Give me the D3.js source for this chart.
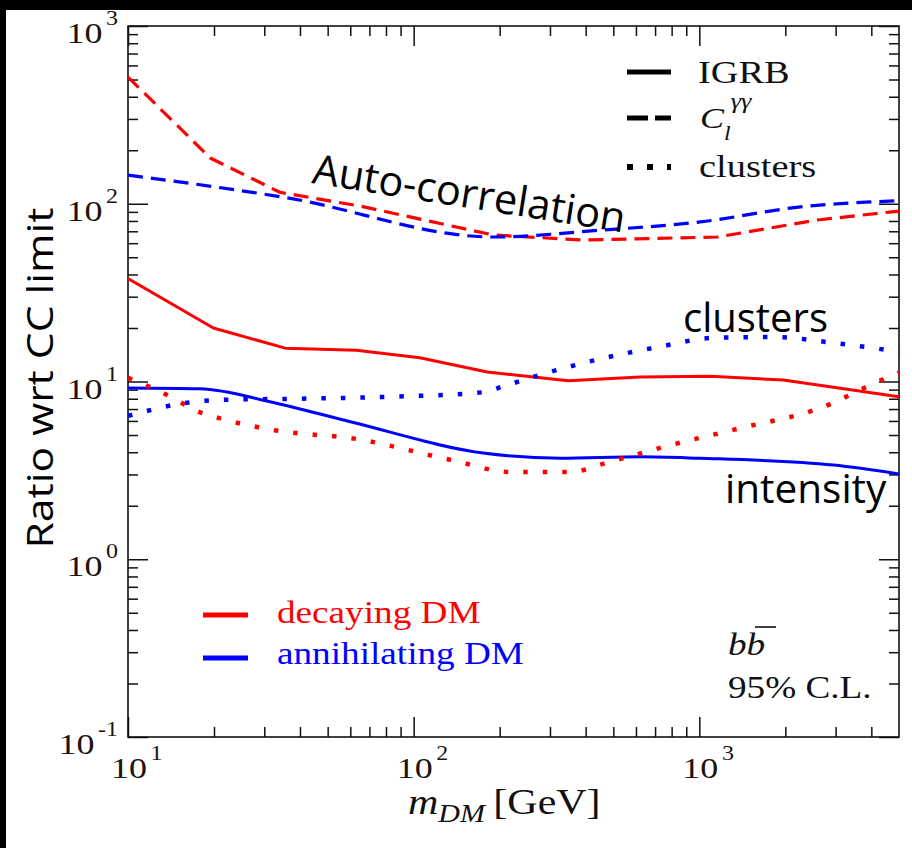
<!DOCTYPE html>
<html>
<head>
<meta charset="utf-8">
<script src="https://cdn.jsdelivr.net/npm/d3@7"></script>
<style>
  html, body { margin: 0; padding: 0; background: #fff; overflow: hidden; }
  svg { display: block; }
</style>
</head>
<body>
<svg id="chart" width="912" height="848"></svg>
<script>
// ---- data: ratio of each limit to the cross-correlation (CC) limit ----
// IGRB (intensity) limits
const igrbDecM = [10, 19.9, 35.5, 63, 105, 181, 348, 621, 1094, 1968, 5000];
const igrbDecV = [38, 20.0, 15.4, 15.0, 13.6, 11.3, 10.1, 10.6, 10.7, 10.2, 8.2];
const igrbAnnM = [10, 17.9, 31.4, 61, 175, 326, 621, 1000, 2946, 5000];
const igrbAnnV = [9.2, 9.1, 7.7, 5.9, 3.96, 3.7, 3.77, 3.7, 3.39, 3.02];
// C_l (auto-correlation) limits
const clDecM = [10, 19.4, 34, 65, 190, 393, 1156, 2590, 5000];
const clDecV = [516, 181, 116, 97, 66.7, 62.5, 65, 81, 91];
const clAnnM = [10, 36, 190, 450, 1007, 2260, 5000];
const clAnnV = [145, 108, 65, 71, 79, 96, 104];
// cluster limits
const cluDecM = [10, 13.7, 17.9, 21, 33, 63, 137, 218, 354, 476, 748, 1393, 2590, 4590, 5000];
const cluDecV = [10.5, 8.4, 6.7, 6.2, 5.3, 4.75, 3.6, 3.1, 3.1, 3.5, 4.28, 5.47, 7.0, 10.6, 11.2];
const cluAnnM = [10, 16.1, 22, 40, 81, 175, 206, 277, 450, 713, 1119, 1815, 2946, 5000];
const cluAnnV = [6.4, 7.6, 7.9, 8.0, 8.2, 8.7, 9.4, 10.9, 13.4, 15.6, 17.6, 17.8, 16.5, 14.7];

const refLevel = 1;                       // CC limit itself
const xMajor = [10, 100, 1000];
const xMajorExp = ["1", "2", "3"];
const yMajor = [0.1, 1, 10, 100, 1000];
const yMajorExp = ["-1", "0", "1", "2", "3"];

const RED = "#ff0000", BLUE = "#0000ff";
const SERIF = "'Liberation Serif','DejaVu Serif',serif";
const SANS = "'Open Sans','Noto Sans',sans-serif";
const STRETCH = 1.2;   // the serif lettering is set slightly wide

const svg = d3.select("#chart");
svg.append("rect").attr("x", 0).attr("y", 0).attr("width", 912).attr("height", 848).attr("fill", "#fff");

// frame bands along top and left
svg.append("rect").attr("x", 0).attr("y", 0).attr("width", 912).attr("height", 10).attr("fill", "#000");
svg.append("rect").attr("x", 0).attr("y", 0).attr("width", 6).attr("height", 848).attr("fill", "#000");

const L = 128, R = 899, T = 26, B = 737;
const x = d3.scaleLog().domain([10, 5000]).range([L, R]);
const y = d3.scaleLog().domain([0.1, 1000]).range([B, T]);

const defs = svg.append("defs");
const sh = defs.append("filter").attr("id", "shadow").attr("x", "-5%").attr("y", "-200%").attr("width", "110%").attr("height", "500%");
sh.append("feDropShadow").attr("dx", 0).attr("dy", 3).attr("stdDeviation", 2).attr("flood-color", "#000").attr("flood-opacity", 0.45);
defs.append("clipPath").attr("id", "plotclip").append("rect").attr("x", L).attr("y", T).attr("width", R - L).attr("height", B - T);

// ---- ticks (inside, major long / minor short) ----
function minorTicks(lo, hi) {
  const out = [];
  for (let e = Math.floor(Math.log10(lo)); e <= Math.ceil(Math.log10(hi)); e++) {
    for (let k = 2; k <= 9; k++) {
      const v = k * Math.pow(10, e);
      if (v > lo && v < hi) out.push(v);
    }
  }
  return out;
}
const xMinor = minorTicks(10, 5000);
const yMinor = minorTicks(0.1, 1000);

function styleAxis(g) {
  g.selectAll("path").remove();
  g.selectAll("line").attr("stroke", "#111").attr("stroke-width", 1.5);
  g.selectAll("text").remove();
}
const MAJ = 20, MIN = 10;
svg.append("g").attr("transform", `translate(0,${B})`).call(d3.axisBottom(x).tickValues(xMajor).tickSize(-MAJ)).call(styleAxis);
svg.append("g").attr("transform", `translate(0,${B})`).call(d3.axisBottom(x).tickValues(xMinor).tickSize(-MIN)).call(styleAxis);
svg.append("g").attr("transform", `translate(0,${T})`).call(d3.axisTop(x).tickValues(xMajor).tickSize(-MAJ)).call(styleAxis);
svg.append("g").attr("transform", `translate(0,${T})`).call(d3.axisTop(x).tickValues(xMinor).tickSize(-MIN)).call(styleAxis);
svg.append("g").attr("transform", `translate(${L},0)`).call(d3.axisLeft(y).tickValues(yMajor).tickSize(-MAJ)).call(styleAxis);
svg.append("g").attr("transform", `translate(${L},0)`).call(d3.axisLeft(y).tickValues(yMinor).tickSize(-MIN)).call(styleAxis);
svg.append("g").attr("transform", `translate(${R},0)`).call(d3.axisRight(y).tickValues(yMajor).tickSize(-MAJ)).call(styleAxis);
svg.append("g").attr("transform", `translate(${R},0)`).call(d3.axisRight(y).tickValues(yMinor).tickSize(-MIN)).call(styleAxis);

// plot frame
svg.append("rect").attr("x", L).attr("y", T).attr("width", R - L).attr("height", B - T)
  .attr("fill", "none").attr("stroke", "#111").attr("stroke-width", 1.6);

// ---- helper for wide serif text ----
function wideText(px, py, anchor, size, fill) {
  const g = svg.append("g").attr("transform", `translate(${px},${py}) scale(${STRETCH},1)`);
  return g.append("text").attr("x", 0).attr("y", 0).attr("text-anchor", anchor)
    .attr("font-family", SERIF).attr("font-size", size).attr("fill", fill || "#111");
}
function powerLabel(t, exp) {
  t.append("tspan").text("10");
  t.append("tspan").attr("dx", 3).attr("dy", -18).attr("font-size", 20).text(exp);
}

// tick labels
yMajor.forEach((v, i) => powerLabel(wideText(118, y(v) + 17, "end", 30, "#1c140c"), yMajorExp[i]));
xMajor.forEach((v, i) => powerLabel(wideText(x(v) - 17, 778, "start", 30, "#1c140c"), xMajorExp[i]));

// axis titles
const xt = wideText(408, 814, "start", 35, "#111");
xt.append("tspan").attr("font-style", "italic").text("m");
xt.append("tspan").attr("font-style", "italic").attr("font-size", 25).attr("dy", 8).text("DM");
xt.append("tspan").attr("dy", -8).attr("dx", 7).text("[GeV]");

svg.append("text").attr("transform", "translate(53,378) rotate(-90)").attr("text-anchor", "middle")
  .attr("font-family", SANS).attr("font-size", 37).attr("fill", "#000")
  .attr("textLength", 341).attr("lengthAdjust", "spacingAndGlyphs").text("Ratio wrt CC limit");

// ---- curves ----
const plot = svg.append("g").attr("clip-path", "url(#plotclip)");
function series(ms, vs) { return ms.map((m, i) => [m, vs[i]]); }
const lineLin = d3.line().x(d => x(d[0])).y(d => y(d[1]));
const lineSmooth = d3.line().x(d => x(d[0])).y(d => y(d[1])).curve(d3.curveMonotoneX);

const curves = [
  { d: series(clDecM, clDecV), c: RED, w: 3.2, dash: "15,8", gen: lineLin },
  { d: series(clAnnM, clAnnV), c: BLUE, w: 3.2, dash: "15,8", gen: lineSmooth },
  { d: series(igrbDecM, igrbDecV), c: RED, w: 3, dash: null, gen: lineLin },
  { d: series(igrbAnnM, igrbAnnV), c: BLUE, w: 3, dash: null, gen: lineSmooth },
  { d: series(cluDecM, cluDecV), c: RED, w: 4.5, dash: "4.5,15", gen: lineSmooth },
  { d: series(cluAnnM, cluAnnV), c: BLUE, w: 4.5, dash: "4.5,15", gen: lineSmooth }
];
curves.forEach(s => {
  plot.append("path").attr("d", s.gen(s.d)).attr("fill", "none").attr("stroke", s.c)
    .attr("stroke-width", s.w).attr("stroke-dasharray", s.dash).attr("stroke-linejoin", "round");
});

// reference level (CC limit = 1)
svg.append("line").attr("x1", x(10) - 3).attr("x2", x(4750)).attr("y1", y(refLevel)).attr("y2", y(refLevel))
  .attr("stroke", "#000").attr("stroke-width", 5.5).attr("filter", "url(#shadow)");

// ---- legend: line styles ----
const lg = [
  { yy: 72, dash: null, w: 5 },
  { yy: 118, dash: "21,7", w: 5 },
  { yy: 167, dash: "6,14", w: 6 }
];
lg.forEach(s => svg.append("line").attr("x1", 627).attr("x2", 671).attr("y1", s.yy).attr("y2", s.yy)
  .attr("stroke", "#000").attr("stroke-width", s.w).attr("stroke-dasharray", s.dash));
wideText(698, 83, "start", 32, "#111").text("IGRB");
const cl = wideText(700, 128, "start", 30, "#111");
cl.append("tspan").attr("font-style", "italic").text("C");
cl.append("tspan").attr("font-style", "italic").attr("font-size", 20).attr("dy", 12).text("l");
cl.append("tspan").attr("font-style", "italic").attr("font-size", 22).attr("dy", -32).attr("dx", 0).text("γγ");
wideText(699, 177, "start", 32, "#111").text("clusters");

// ---- legend: colours ----
svg.append("line").attr("x1", 203).attr("x2", 248).attr("y1", 615).attr("y2", 615).attr("stroke", RED).attr("stroke-width", 5);
svg.append("line").attr("x1", 203).attr("x2", 248).attr("y1", 658).attr("y2", 658).attr("stroke", BLUE).attr("stroke-width", 5);
wideText(277, 623, "start", 31, RED).text("decaying DM");
wideText(277, 664, "start", 31, BLUE).text("annihilating DM");

// channel and confidence level
wideText(728, 655, "start", 31, "#111").attr("font-style", "italic").text("bb");
svg.append("line").attr("x1", 755).attr("x2", 776).attr("y1", 627).attr("y2", 627).attr("stroke", "#111").attr("stroke-width", 1.6);
wideText(728, 698, "start", 31, "#111").text("95% C.L.");

// ---- annotations ----
function note(txt, px, py, rot, size) {
  svg.append("text").attr("transform", `translate(${px},${py}) rotate(${rot})`)
    .attr("font-family", SANS).attr("font-size", size).attr("fill", "#000").text(txt);
}
note("Auto-correlation", 311, 183, 9, 41.5);
note("clusters", 683, 332, 0, 40);
note("intensity", 725, 503, 0, 40.5);
</script>
</body>
</html>
